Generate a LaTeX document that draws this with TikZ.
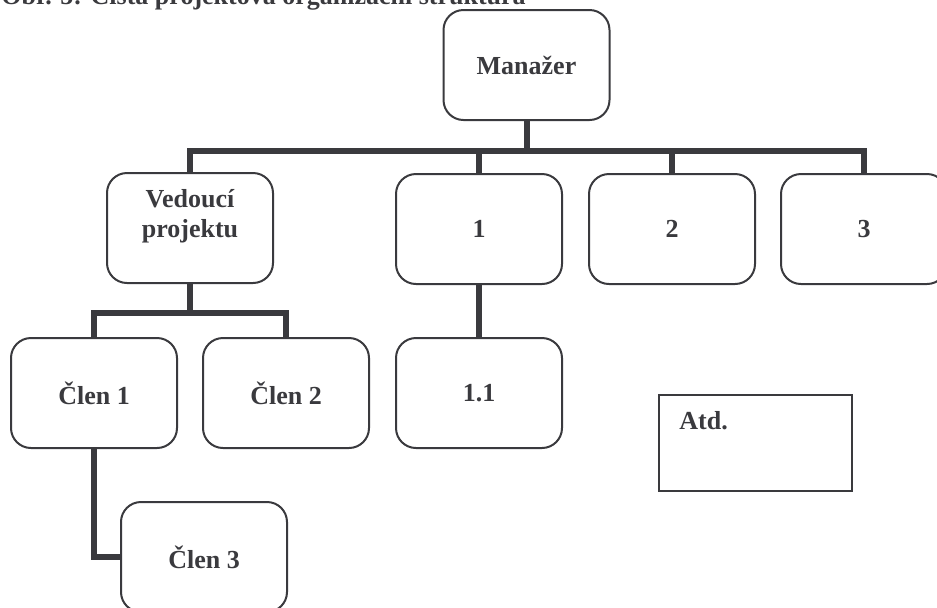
\documentclass[tikz,border=0pt]{standalone}
\usepackage{fontspec}
\setmainfont{Liberation Serif}
\definecolor{ink}{RGB}{58,58,62}

\begin{document}
\begin{tikzpicture}[x=0.5pt, y=-0.5pt,
    every node/.style={text=ink, font=\bfseries\fontsize{13}{15}\selectfont},
    unit/.style={draw=ink, line width=1pt, rounded corners=10pt,
        minimum width=83pt, minimum height=55pt, inner sep=0pt, align=center},
    link/.style={draw=ink, line width=3pt}]
    \useasboundingbox (0, 0) rectangle (937, 607);
    % caption (cut off at the top)
    \node [anchor=base west, inner sep=0pt] (title) at (1, 4) {Obr. 5: Čistá projektová organizační struktura};
    % top
    \node [unit] (mgr) at (526.5, 65) {Manažer};
    % second level
    \node [unit] (ved) at (190, 228) {Vedoucí\\projektu\\\mbox{}};
    \node [unit] (one) at (479, 229) {1};
    \node [unit] (two) at (672, 229) {2};
    \node [unit] (three) at (864, 229) {3};
    % third level
    \node [unit] (clen1) at (94, 393) {Člen 1};
    \node [unit] (clen2) at (286, 393) {Člen 2};
    \node [unit] (oneone) at (479, 393) {1.1};
    % fourth level
    \node [unit] (clen3) at (204, 557) {Člen 3};
    % etc.
    \node [draw=ink, line width=1pt, minimum width=96.5pt, minimum height=48pt, inner sep=0pt,
        label={[anchor=north west, inner sep=0pt, xshift=10.5pt, yshift=-8.5pt]north west:Atd.}]
        (atd) at (755.5, 443) {};
    % bus under the manager
    \coordinate (bus) at (526.5, 151);
    \draw [link] (mgr.south) -- (bus);
    \draw [link] (bus) -| (ved.north);
    \draw [link] (bus) -| (one.north);
    \draw [link] (bus) -| (two.north);
    \draw [link] (bus) -| (three.north);
    % bus under the project leader
    \coordinate (vbus) at (190, 313);
    \draw [link] (ved.south) -- (vbus);
    \draw [link] (vbus) -| (clen1.north);
    \draw [link] (vbus) -| (clen2.north);
    \draw [link] (clen1.south) |- (clen3.west);
    \draw [link] (one.south) -- (oneone.north);
\end{tikzpicture}
\end{document}
